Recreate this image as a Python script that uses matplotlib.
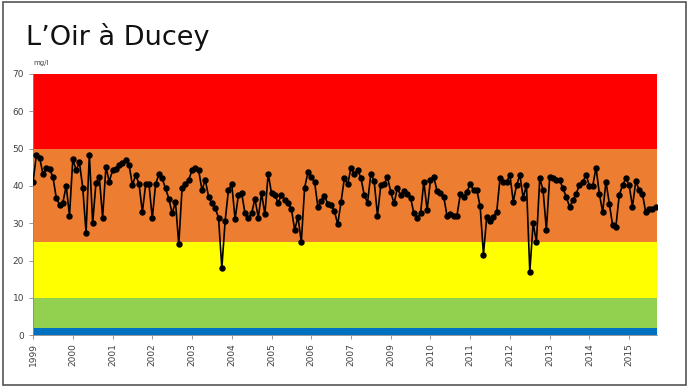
import matplotlib
matplotlib.use("Agg")
import matplotlib.pyplot as plt
from matplotlib.patches import Rectangle

title = "L\u2019Oir à Ducey"
unit_label = "mg/l"

year_labels = ["1999", "2000", "2001", "2002", "2003", "2004", "2005", "2006",
               "2007", "2009", "2010", "2011", "2012", "2013", "2014", "2015"]

# class bands (lower, upper, colour)
band_bounds = [0, 2, 10, 25, 50, 70]
band_colors = ["#0070C0", "#92D050", "#FFFF00", "#ED7D31", "#FF0000"]

# monthly nitrate concentrations (mg/l)
nitrate = [
    41.1, 48.3, 47.5, 43.1, 44.7, 44.4, 42.4, 36.8, 34.9, 35.5, 40.0, 32.0,
    47.2, 44.2, 46.3, 39.5, 27.5, 48.4, 30.0, 40.9, 42.4, 31.5, 45.1, 41.1,
    44.2, 44.6, 45.6, 46.0, 46.9, 45.6, 40.2, 42.9, 40.5, 33.0, 40.4, 40.5,
    31.3, 40.5,
    43.1, 42.0, 39.3, 36.6, 32.6, 35.7, 24.3, 39.5, 40.4, 41.6, 44.2, 44.9,
    44.2, 38.9, 41.6, 37.1, 35.3, 34.0, 31.5, 18.0, 30.6, 38.9, 40.4, 31.1,
    37.5, 38.0, 32.6, 31.5, 32.6, 36.6, 31.5, 38.0, 32.4, 43.3, 38.0, 37.5,
    35.5,
    37.5, 36.3, 35.3, 33.8, 28.2, 31.7, 24.9, 39.5, 43.6, 42.4, 41.1, 34.4,
    35.9, 37.3, 35.2, 34.9, 33.2, 29.7, 35.7, 42.0, 40.4, 44.9, 43.3, 44.2,
    42.2, 37.5, 35.5, 43.3, 41.3, 32.0, 40.2, 40.4, 42.4, 38.4, 35.3, 39.3,
    37.5, 38.6,
    37.7, 36.8, 32.6, 31.5, 32.6, 41.1, 33.5, 41.6, 42.4, 38.6, 38.0, 37.1,
    32.0, 32.4, 32.0, 32.0, 37.7, 37.1, 38.4, 40.4, 38.9, 38.9, 34.5, 21.6,
    31.7, 30.6, 31.7, 33.0, 42.0, 41.1, 41.1, 42.9, 35.7, 40.2, 42.9, 36.8,
    40.2, 17.0,
    30.0, 25.0, 42.0, 38.9, 28.2, 42.4, 42.0, 41.6, 41.6, 39.3, 37.1, 34.4,
    36.1, 37.9, 40.2, 41.1, 42.9, 40.0, 40.0, 44.9, 37.9, 33.0, 41.1, 35.2,
    29.5, 29.1, 37.5, 40.2, 42.0, 40.2, 34.4, 41.3, 38.9, 37.9, 33.0, 33.9,
    33.9, 34.4,
]
months = list(range(len(nitrate)))

fig = plt.figure(figsize=(6.89, 3.87), dpi=100)
fig.patch.set_facecolor("white")
fig.patches.append(Rectangle((0.004, 0.005), 0.992, 0.99, transform=fig.transFigure,
                             fill=False, edgecolor="#555555", linewidth=1.2))

ax = fig.add_axes([0.048, 0.134, 0.906, 0.675])
for lo, hi, c in zip(band_bounds[:-1], band_bounds[1:], band_colors):
    ax.axhspan(lo, hi, color=c, lw=0, zorder=0)

ax.plot(months, nitrate, color="black", lw=1.2, marker="o", ms=3.6,
        markerfacecolor="black", markeredgecolor="black", zorder=3)

ax.set_ylim(0, 70)
ax.set_xlim(0, len(nitrate) - 0.5)
ax.set_yticks(range(0, 71, 10))
ax.set_xticks([12 * i for i in range(len(year_labels))])
ax.set_xticklabels(year_labels, rotation=90, fontsize=6.5, color="#404040")
ax.tick_params(axis="y", labelsize=6.5, labelcolor="#404040", length=3, color="#888888", width=0.6)
ax.tick_params(axis="x", length=3, color="#888888", width=0.6, pad=3)
for s in ["top", "right"]:
    ax.spines[s].set_visible(False)
ax.spines["left"].set_color("#888888")
ax.spines["left"].set_linewidth(0.6)
ax.spines["bottom"].set_color("#888888")
ax.spines["bottom"].set_linewidth(0.6)

fig.text(0.038, 0.905, title, fontsize=19.5, color="#111111", va="center", ha="left")
fig.text(0.048, 0.838, unit_label, fontsize=5, color="#404040", va="center", ha="left")

fig.savefig("out.png", dpi=100)
